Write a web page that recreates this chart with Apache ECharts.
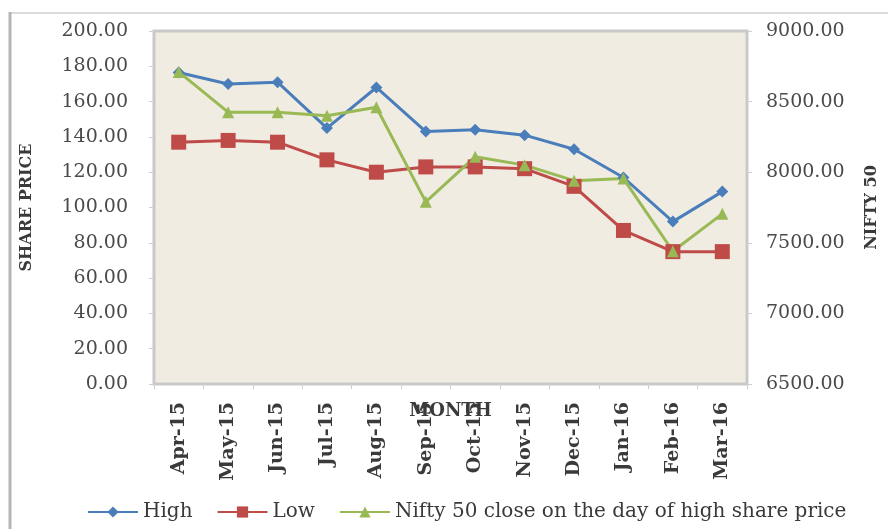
<!DOCTYPE html>
<html>
<head>
<meta charset="utf-8">
<script src="https://cdn.jsdelivr.net/npm/echarts@6/dist/echarts.min.js"></script>
<style>
  html, body { margin: 0; padding: 0; background: #fff; }
  #chart { width: 888px; height: 529px; }
</style>
</head>
<body>
<div id="chart"></div>
<script>
// months on the x axis
var months = ['Apr-15', 'May-15', 'Jun-15', 'Jul-15', 'Aug-15', 'Sep-15',
  'Oct-15', 'Nov-15', 'Dec-15', 'Jan-16', 'Feb-16', 'Mar-16']
// share price (left axis)
var high = [176.5, 170, 171, 145, 168, 143, 144, 141, 133, 117, 92, 109]
var low = [137, 138, 137, 127, 120, 123, 123, 122, 112, 87, 75, 75]
// nifty 50 close (right axis)
var nifty = [8710, 8425, 8425, 8400, 8460, 7790, 8110, 8050, 7940, 7955, 7440, 7705]

var serif = '"DejaVu Serif", "Liberation Serif", serif'
var fmt = function (v) { return v.toFixed(2) }

var chart = echarts.init(document.getElementById('chart'))
chart.setOption({
  animation: false,
  backgroundColor: '#fff',
  // frame lines of the picture (top and left only are visible)
  graphic: [{
    type: 'line',
    shape: { x1: 10, y1: 13, x2: 888, y2: 13 },
    style: { stroke: '#dcdcdc', lineWidth: 2 }
  }, {
    type: 'line',
    shape: { x1: 10, y1: 12, x2: 10, y2: 529 },
    style: { stroke: '#b5b5b5', lineWidth: 3 }
  }],
  grid: {
    left: 154, right: 132, top: 31, bottom: 145,
    show: true,
    backgroundColor: '#f1ece2',
    borderColor: '#c9c9c9',
    borderWidth: 3
  },
  legend: {
    left: 82, top: 497,
    itemWidth: 50, itemHeight: 14, itemGap: 24,
    textStyle: { fontFamily: serif, fontSize: 20, color: '#3a3a3a' },
    data: ['High', 'Low', 'Nifty 50 close on the day of high share price']
  },
  xAxis: {
    type: 'category',
    data: months,
    axisLine: { show: false },
    axisTick: { show: true, lineStyle: { color: '#cfcfcf' } },
    axisLabel: { rotate: 90, fontFamily: serif, fontSize: 19, fontWeight: 'bold', color: '#3a3a3a', margin: 18 },
    name: 'MONTH',
    nameLocation: 'middle',
    nameGap: 18,
    nameMoveOverlap: false,
    nameTextStyle: { fontFamily: serif, fontSize: 18, fontWeight: 'bold', color: '#3a3a3a' }
  },
  yAxis: [{
    type: 'value',
    min: 0, max: 200, interval: 20,
    splitLine: { show: false },
    axisLine: { show: false },
    axisTick: { show: true, length: 5, lineStyle: { color: '#cfcfcf' } },
    axisLabel: { formatter: fmt, fontFamily: serif, fontSize: 19, color: '#4a4a4a', margin: 26 },
    name: 'SHARE PRICE',
    nameLocation: 'middle',
    nameGap: 119,
    nameRotate: 90,
    nameTextStyle: { fontFamily: serif, fontSize: 16, fontWeight: 'bold', color: '#3a3a3a' }
  }, {
    type: 'value',
    min: 6500, max: 9000, interval: 500,
    splitLine: { show: false },
    axisLine: { show: false },
    axisTick: { show: true, length: 5, lineStyle: { color: '#cfcfcf' } },
    axisLabel: { formatter: fmt, fontFamily: serif, fontSize: 19, color: '#4a4a4a', margin: 19 },
    name: 'NIFTY 50',
    nameLocation: 'middle',
    nameGap: 117,
    nameRotate: 90,
    nameTextStyle: { fontFamily: serif, fontSize: 16, fontWeight: 'bold', color: '#3a3a3a' }
  }],
  series: [{
    name: 'High',
    type: 'line',
    data: high,
    symbol: 'diamond',
    symbolSize: 12,
    itemStyle: { color: '#4a7ebb' },
    lineStyle: { width: 3, color: '#4a7ebb' }
  }, {
    name: 'Low',
    type: 'line',
    data: low,
    symbol: 'rect',
    symbolSize: 15,
    itemStyle: { color: '#be4b48' },
    lineStyle: { width: 3, color: '#be4b48' }
  }, {
    name: 'Nifty 50 close on the day of high share price',
    type: 'line',
    yAxisIndex: 1,
    data: nifty,
    symbol: 'triangle',
    symbolSize: 12,
    itemStyle: { color: '#98b954' },
    lineStyle: { width: 3, color: '#98b954' }
  }]
})
</script>
</body>
</html>
